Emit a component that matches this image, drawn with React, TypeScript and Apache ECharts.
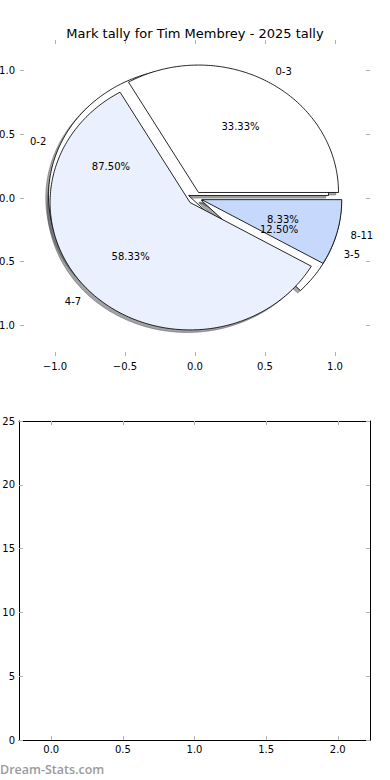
import { useEffect, useRef } from 'react';
import * as echarts from 'echarts';

const chartTitle = 'Mark tally for Tim Membrey - 2025 tally';
const pieALabels = ['0-3', '4-7', '8-11'];
const pieAValues = [4, 7, 1];
const pieBLabels = ['0-2', '3-5'];
const pieBValues = [7, 1];
const pieTicks = [-1, -0.5, 0, 0.5, 1];
const barXTicks = [0, 0.5, 1, 1.5, 2];
const barValues: number[] = [];
const watermark = 'Dream-Stats.com';

const pieAColors = ['#ffffff', '#eaf0fd', '#c6d9fd'];
const pieBColors = ['#ffffff', '#ffffff'];
const EXPLODE = 0.05;
const SHADOW = 0.02;
const FONT = '"DejaVu Sans", sans-serif';
const TICK_COLOR = '#b0b0b0';

function wedgeData(values: number[], labels: string[]) {
  const total = values.reduce((a, b) => a + b, 0);
  let acc = 0;
  return values.map((v, i) => {
    const s = (acc / total) * 360;
    acc += v;
    const e = (acc / total) * 360;
    return { name: labels[i], value: [s, e, (v / total) * 100] };
  });
}

function shade(hex: string) {
  const r = parseInt(hex.slice(1, 3), 16) * 0.3;
  const g = parseInt(hex.slice(3, 5), 16) * 0.3;
  const b = parseInt(hex.slice(5, 7), 16) * 0.3;
  return `rgba(${r.toFixed(0)},${g.toFixed(0)},${b.toFixed(0)},0.5)`;
}

function makeRender(labels: string[], colors: string[], zWedge: number) {
  return (params: any, api: any) => {
    const t1 = api.value(0) as number;
    const t2 = api.value(1) as number;
    const pct = api.value(2) as number;
    const i = params.dataIndex;
    const mid = (((t1 + t2) / 2) * Math.PI) / 180;
    const ox = EXPLODE * Math.cos(mid);
    const oy = EXPLODE * Math.sin(mid);
    const pts = (dx: number, dy: number) => {
      const arr: number[][] = [api.coord([ox + dx, oy + dy])];
      const n = Math.max(2, Math.ceil(t2 - t1));
      for (let k = 0; k <= n; k++) {
        const a = ((t1 + ((t2 - t1) * k) / n) * Math.PI) / 180;
        arr.push(api.coord([ox + dx + Math.cos(a), oy + dy + Math.sin(a)]));
      }
      return arr;
    };
    const lx = ox + 1.1 * Math.cos(mid);
    const ly = oy + 1.1 * Math.sin(mid);
    const lp = api.coord([lx, ly]);
    const pp = api.coord([ox + 0.6 * Math.cos(mid), oy + 0.6 * Math.sin(mid)]);
    const sc = shade(colors[i]);
    return {
      type: 'group',
      children: [
        {
          type: 'polygon',
          z2: 0,
          shape: { points: pts(-SHADOW, -SHADOW) },
          style: { fill: sc, stroke: sc, lineWidth: 0.85 },
        },
        {
          type: 'polygon',
          z2: zWedge,
          shape: { points: pts(0, 0) },
          style: { fill: colors[i], stroke: '#000', lineWidth: 0.85, lineJoin: 'miter' },
        },
        {
          type: 'text',
          z2: 10,
          x: lp[0],
          y: lp[1],
          style: {
            text: labels[i],
            fill: '#000',
            font: `10px ${FONT}`,
            align: lx > 0 ? 'left' : 'right',
            verticalAlign: 'middle',
          },
        },
        {
          type: 'text',
          z2: 10,
          x: pp[0],
          y: pp[1],
          style: {
            text: pct.toFixed(2) + '%',
            fill: '#000',
            font: `10px ${FONT}`,
            align: 'center',
            verticalAlign: 'middle',
          },
        },
      ],
    };
  };
}

const fmt1 = (v: number) => (v < 0 ? '\u2212' : '') + Math.abs(v).toFixed(1);

function tickAxis(extra: any, ticks?: number[]) {
  return {
    type: 'value',
    axisTick: {
      show: true,
      inside: true,
      length: 4,
      lineStyle: { color: TICK_COLOR, width: 1 },
      ...(ticks ? { customValues: ticks } : {}),
    },
    splitLine: { show: false },
    ...extra,
  };
}

export default function App() {
  const ref = useRef<HTMLDivElement>(null);
  useEffect(() => {
    if (!ref.current) return;
    const chart = echarts.init(ref.current, undefined, { renderer: 'svg' });
    const labelStyle = { color: '#000', fontSize: 10, fontFamily: FONT };
    const hidden = { show: false, onZero: false };
    const frame = { show: true, onZero: false, lineStyle: { color: '#000', width: 1 } };
    const pieX = { min: -1.25, max: 1.25, axisLine: hidden };
    const pieY = { min: -1.24, max: 1.24, axisLine: hidden };
    chart.setOption({
      animation: false,
      backgroundColor: '#ffffff',
      textStyle: { fontFamily: FONT },
      title: {
        text: chartTitle,
        left: 'center',
        top: 22,
        textStyle: { fontSize: 13, fontWeight: 'normal', color: '#000', fontFamily: FONT },
      },
      grid: [
        { left: 20, right: 20, top: 40, height: 316, containLabel: false, outerBoundsMode: 'none' },
        { left: 19, right: 20, top: 421, height: 319, containLabel: false, outerBoundsMode: 'none' },
      ],
      xAxis: [
        tickAxis(
          {
            gridIndex: 0, position: 'bottom', ...pieX,
            axisLabel: { ...labelStyle, margin: 5, customValues: pieTicks, formatter: fmt1 },
          },
          pieTicks,
        ),
        tickAxis({ gridIndex: 0, position: 'top', ...pieX, axisLabel: { show: false } }, pieTicks),
        tickAxis(
          {
            gridIndex: 1, position: 'bottom', min: -0.225, max: 2.225, axisLine: frame,
            axisLabel: { ...labelStyle, margin: 4, customValues: barXTicks, formatter: (v: number) => v.toFixed(1) },
          },
          barXTicks,
        ),
        tickAxis(
          { gridIndex: 1, position: 'top', min: -0.225, max: 2.225, axisLine: frame, axisLabel: { show: false } },
          barXTicks,
        ),
      ],
      yAxis: [
        tickAxis(
          {
            gridIndex: 0, position: 'left', ...pieY,
            axisLabel: { ...labelStyle, margin: 5, customValues: pieTicks, formatter: fmt1 },
          },
          pieTicks,
        ),
        tickAxis({ gridIndex: 0, position: 'right', ...pieY, axisLabel: { show: false } }, pieTicks),
        tickAxis({
          gridIndex: 1, position: 'left', min: 0, max: 25, interval: 5, axisLine: frame,
          axisLabel: { ...labelStyle, margin: 4 },
        }),
        tickAxis({
          gridIndex: 1, position: 'right', min: 0, max: 25, interval: 5, axisLine: frame,
          axisLabel: { show: false },
        }),
      ],
      series: [
        {
          type: 'custom',
          name: 'pieB',
          xAxisIndex: 0,
          yAxisIndex: 0,
          renderItem: makeRender(pieBLabels, pieBColors, 1),
          data: wedgeData(pieBValues, pieBLabels),
        },
        {
          type: 'custom',
          name: 'pieA',
          xAxisIndex: 0,
          yAxisIndex: 0,
          renderItem: makeRender(pieALabels, pieAColors, 2),
          data: wedgeData(pieAValues, pieALabels),
        },
        {
          type: 'bar',
          xAxisIndex: 2,
          yAxisIndex: 2,
          data: barValues,
        },
      ],
      graphic: [
        {
          type: 'text',
          x: 0,
          y: 769,
          style: {
            text: watermark,
            fill: '#9a9a9a',
            font: `600 12.5px "Open Sans", sans-serif`,
            verticalAlign: 'middle',
          },
        },
      ],
    });
    return () => chart.dispose();
  }, []);
  return <div ref={ref} style={{ position: 'absolute', left: 0, top: 0, width: 390, height: 780 }} />;
}
